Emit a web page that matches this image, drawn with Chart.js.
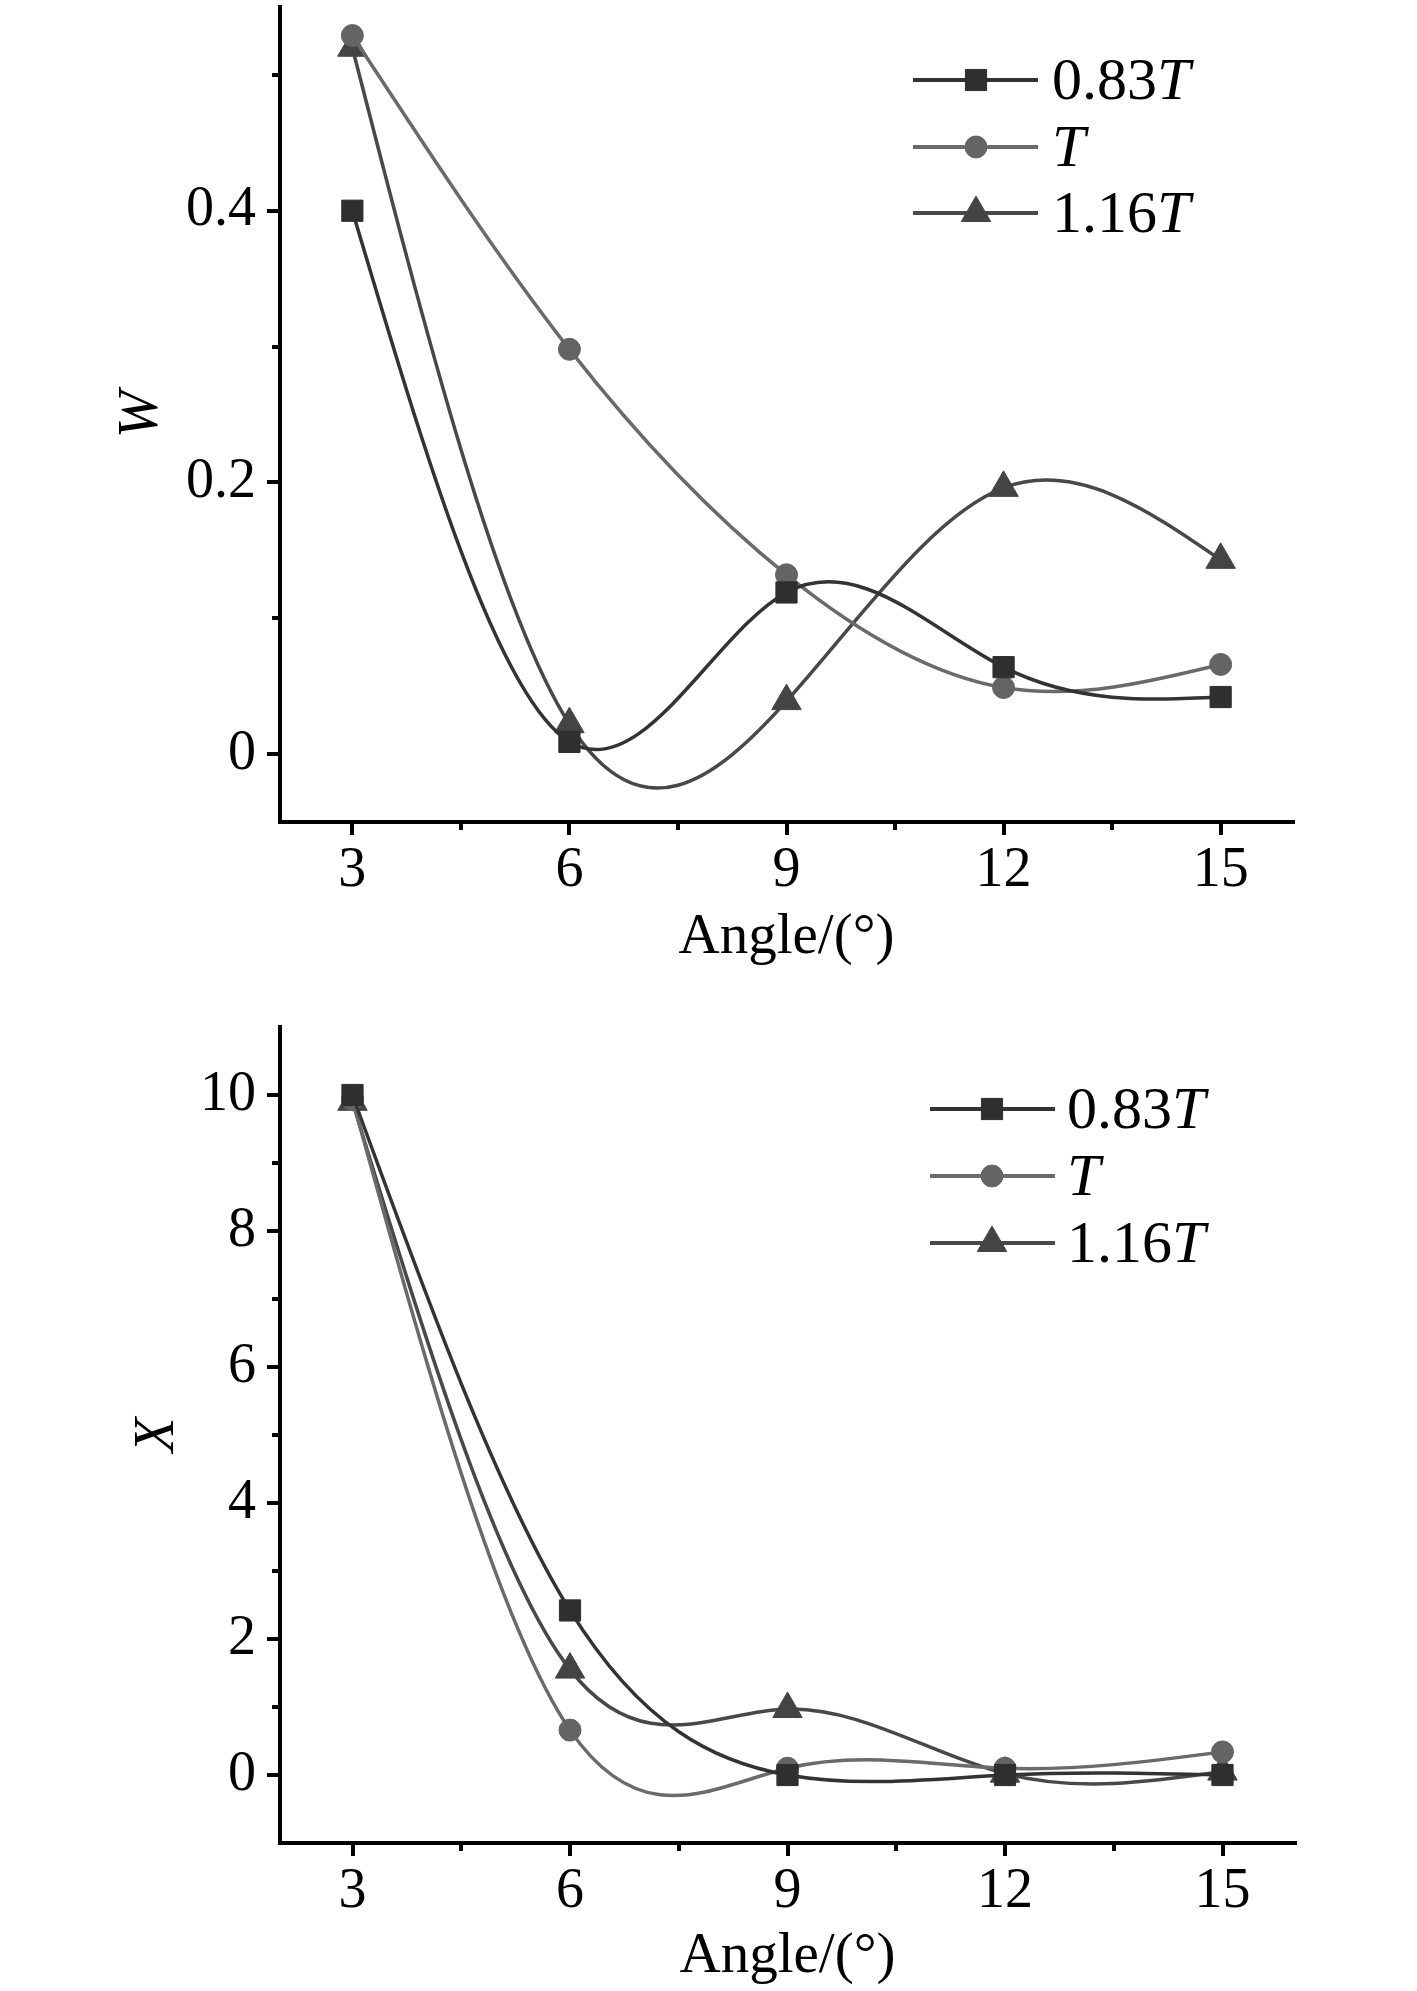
<!DOCTYPE html>
<html>
<head>
<meta charset="utf-8">
<script src="https://cdn.jsdelivr.net/npm/chart.js@4/dist/chart.umd.min.js"></script>
<style>
  html, body { margin: 0; padding: 0; background: #ffffff; }
  body { width: 1417px; height: 1991px; position: relative; overflow: hidden; }
  .panel { position: absolute; left: 0; width: 1417px; }
  canvas { display: block; }
</style>
</head>
<body>
<div class="panel" style="top:0;height:1000px"><canvas id="chartW" width="1417" height="1000"></canvas></div>
<div class="panel" style="top:1000px;height:991px"><canvas id="chartX" width="1417" height="991"></canvas></div>
<script>
// ---------------- data ----------------
const angles = [3, 6, 9, 12, 15];
const seriesPrefix = ['0.83', '', '1.16'];     // legend text before italic "T"
const seriesSuffix = 'T';

const W_083T = [0.400, 0.009, 0.119, 0.064, 0.042];
const W_T    = [0.529, 0.298, 0.132, 0.049, 0.066];
const W_116T = [0.520, 0.022, 0.039, 0.196, 0.143];

const X_083T = [10.00, 2.42, 0.00, 0.00, 0.00];
const X_T    = [9.93, 0.66, 0.10, 0.10, 0.34];
const X_116T = [9.90, 1.55, 0.97, 0.02, 0.05];

const angleTicks = [3, 6, 9, 12, 15];
const angleTickLabels = ['3', '6', '9', '12', '15'];
const angleMinorTicks = [4.5, 7.5, 10.5, 13.5];

const wTicks = [0, 0.2, 0.4];
const wTickLabels = ['0', '0.2', '0.4'];
const wMinorTicks = [0.1, 0.3, 0.5];

const xValTicks = [0, 2, 4, 6, 8, 10];
const xValTickLabels = ['0', '2', '4', '6', '8', '10'];
const xValMinorTicks = [1, 3, 5, 7, 9];

const xAxisTitle = 'Angle/(°)';

// ---------------- styles ----------------
const FONT = "'Liberation Serif', 'Times New Roman', serif";
const seriesStyle = [
  { color: '#2f2f2f', line: '#333333', pointStyle: 'rect', radius: 15 },
  { color: '#646464', line: '#6a6a6a', pointStyle: 'circle', radius: 11 },
  { color: '#444444', line: '#484848', pointStyle: 'triangle', radius: 17 }
];

function toPoints(vals) { return angles.map((a, i) => ({ x: a, y: vals[i] })); }

// Natural cubic spline control points applied to Chart.js' own line elements
// (points are the pixel positions Chart.js computed from its scales).
const naturalSplinePlugin = {
  id: 'naturalSpline',
  beforeDatasetDraw(chart, args) {
    const meta = args.meta;
    const line = meta.dataset;
    const pts = meta.data;
    if (!line || !pts || pts.length < 3) return;
    if (typeof line.updateControlPoints === 'function') line.updateControlPoints(chart.chartArea, meta.indexAxis);
    const n = pts.length;
    const X = pts.map(p => p.x), Y = pts.map(p => p.y);
    const h = [];
    for (let i = 0; i < n - 1; i++) h.push(X[i + 1] - X[i]);
    const M = new Array(n).fill(0);
    const m = n - 2;
    const a = [], b = [], c = [], d = [];
    for (let k = 0; k < m; k++) {
      const i = k + 1;
      a.push(h[i - 1]);
      b.push(2 * (h[i - 1] + h[i]));
      c.push(h[i]);
      d.push(6 * ((Y[i + 1] - Y[i]) / h[i] - (Y[i] - Y[i - 1]) / h[i - 1]));
    }
    for (let k = 1; k < m; k++) {
      const w = a[k] / b[k - 1];
      b[k] -= w * c[k - 1];
      d[k] -= w * d[k - 1];
    }
    const sol = new Array(m).fill(0);
    sol[m - 1] = d[m - 1] / b[m - 1];
    for (let k = m - 2; k >= 0; k--) sol[k] = (d[k] - c[k] * sol[k + 1]) / b[k];
    for (let k = 0; k < m; k++) M[k + 1] = sol[k];
    const S = new Array(n);
    for (let i = 0; i < n - 1; i++) {
      S[i] = (Y[i + 1] - Y[i]) / h[i] - h[i] * (2 * M[i] + M[i + 1]) / 6;
    }
    S[n - 1] = (Y[n - 1] - Y[n - 2]) / h[n - 2] + h[n - 2] * (M[n - 2] + 2 * M[n - 1]) / 6;
    for (let i = 0; i < n; i++) {
      const p = pts[i];
      if (i > 0) { const hh = h[i - 1] / 3; p.cp1x = X[i] - hh; p.cp1y = Y[i] - S[i] * hh; }
      else { p.cp1x = X[i]; p.cp1y = Y[i]; }
      if (i < n - 1) { const hh = h[i] / 3; p.cp2x = X[i] + hh; p.cp2y = Y[i] + S[i] * hh; }
      else { p.cp2x = X[i]; p.cp2y = Y[i]; }
    }
    line._path = undefined;
  }
};

const minorTickPlugin = {
  id: 'minorTicks',
  afterDraw(chart, args, opts) {
    const ctx = chart.ctx;
    ctx.save();
    ctx.strokeStyle = '#000';
    ctx.lineWidth = 4;
    const xs = chart.scales.x, ys = chart.scales.y;
    const ca = chart.chartArea;
    (opts.x || []).forEach(v => {
      const px = Math.round(xs.getPixelForValue(v));
      ctx.beginPath(); ctx.moveTo(px, ca.bottom); ctx.lineTo(px, ca.bottom + 8); ctx.stroke();
    });
    (opts.y || []).forEach(v => {
      const py = Math.round(ys.getPixelForValue(v));
      ctx.beginPath(); ctx.moveTo(ca.left, py); ctx.lineTo(ca.left - 8, py); ctx.stroke();
    });
    ctx.restore();
  }
};

function drawMarker(ctx, style, x, y) {
  ctx.fillStyle = style.color;
  ctx.strokeStyle = style.color;
  ctx.lineWidth = 1;
  if (Chart.helpers && Chart.helpers.drawPoint) {
    Chart.helpers.drawPoint(ctx, { pointStyle: style.pointStyle, radius: style.radius, rotation: 0, borderWidth: 1 }, x, y);
  }
}

const lineLegendPlugin = {
  id: 'lineLegend',
  afterDraw(chart, args, opts) {
    const ctx = chart.ctx;
    ctx.save();
    chart.data.datasets.forEach((ds, i) => {
      const st = seriesStyle[i];
      const y = opts.rows[i];
      ctx.strokeStyle = st.line;
      ctx.lineWidth = 4;
      ctx.beginPath(); ctx.moveTo(opts.x1, y); ctx.lineTo(opts.x2, y); ctx.stroke();
      drawMarker(ctx, st, opts.mx, y);
      ctx.fillStyle = '#000';
      ctx.textBaseline = 'alphabetic';
      ctx.textAlign = 'left';
      ctx.font = '60px ' + FONT;
      let tx = opts.tx;
      const pre = seriesPrefix[i];
      if (pre) { ctx.fillText(pre, tx, y + 19); tx += ctx.measureText(pre).width; }
      ctx.font = 'italic 60px ' + FONT;
      ctx.fillText(seriesSuffix, tx, y + 19);
    });
    ctx.restore();
  }
};

function makeChart(id, series, cfg) {
  const datasets = series.map((vals, i) => ({
    label: seriesPrefix[i] + seriesSuffix,
    data: toPoints(vals),
    borderColor: seriesStyle[i].line,
    backgroundColor: seriesStyle[i].color,
    pointBackgroundColor: seriesStyle[i].color,
    pointBorderColor: seriesStyle[i].color,
    pointStyle: seriesStyle[i].pointStyle,
    pointRadius: seriesStyle[i].radius,
    pointBorderWidth: 1,
    borderWidth: 3.5,
    tension: 0.4,
    fill: false
  }));
  return new Chart(document.getElementById(id), {
    type: 'line',
    data: { datasets },
    plugins: [naturalSplinePlugin, minorTickPlugin, lineLegendPlugin],
    options: {
      responsive: false,
      animation: false,
      events: [],
      layout: { autoPadding: false, padding: { top: cfg.padTop, right: cfg.padRight, left: 0, bottom: 0 } },
      plugins: {
        legend: { display: false },
        tooltip: { enabled: false },
        minorTicks: { x: angleMinorTicks, y: cfg.yMinor },
        lineLegend: cfg.legend
      },
      scales: {
        x: {
          type: 'linear', min: 2, max: 16,
          afterBuildTicks: s => { s.ticks = angleTicks.map(v => ({ value: v })); },
          afterFit: s => { s.height = cfg.xAxisHeight; s.paddingLeft = 0; s.paddingRight = 0; },
          grid: { display: true, drawOnChartArea: false, drawTicks: true, tickLength: 13, tickWidth: 4, tickColor: '#000', color: '#000', lineWidth: 4 },
          border: { display: true, color: '#000', width: 4 },
          ticks: { font: { family: FONT, size: 56 }, color: '#000', padding: 3, maxRotation: 0, autoSkip: false,
                   callback: (v, i) => angleTickLabels[i] },
          title: { display: true, text: xAxisTitle, font: { family: FONT, size: 57 }, color: '#000', padding: { top: 0, bottom: cfg.xTitlePad } }
        },
        y: {
          type: 'linear', min: cfg.yMin, max: cfg.yMax,
          afterBuildTicks: s => { s.ticks = cfg.yTicks.map(v => ({ value: v })); },
          afterFit: s => { s.width = 280; s.paddingTop = 0; s.paddingBottom = 0; },
          grid: { display: true, drawOnChartArea: false, drawTicks: true, tickLength: 13, tickWidth: 4, tickColor: '#000', color: '#000', lineWidth: 4 },
          border: { display: true, color: '#000', width: 4 },
          ticks: { font: { family: FONT, size: 56 }, color: '#000', padding: 11, autoSkip: false,
                   callback: (v, i) => cfg.yTickLabels[i] },
          title: { display: true, text: cfg.yTitle, font: { family: FONT, size: 57, style: 'italic' }, color: '#000', padding: { top: cfg.yTitlePad, bottom: 0 } }
        }
      }
    }
  });
}

makeChart('chartW', [W_083T, W_T, W_116T], {
  padTop: 7, padRight: 124, xAxisHeight: 178, xTitlePad: 28,
  yMin: -0.05, yMax: 0.55, yTicks: wTicks, yTickLabels: wTickLabels, yMinor: wMinorTicks,
  yTitle: 'W', yTitlePad: 108,
  legend: { x1: 913, x2: 1038, mx: 976, tx: 1052, rows: [80, 147, 213] }
});

makeChart('chartX', [X_083T, X_T, X_116T], {
  padTop: 27, padRight: 122, xAxisHeight: 148, xTitlePad: 0,
  yMin: -1, yMax: 11, yTicks: xValTicks, yTickLabels: xValTickLabels, yMinor: xValMinorTicks,
  yTitle: 'X', yTitlePad: 124,
  legend: { x1: 930, x2: 1055, mx: 992, tx: 1067, rows: [109, 176, 243] }
});
</script>
</body>
</html>
